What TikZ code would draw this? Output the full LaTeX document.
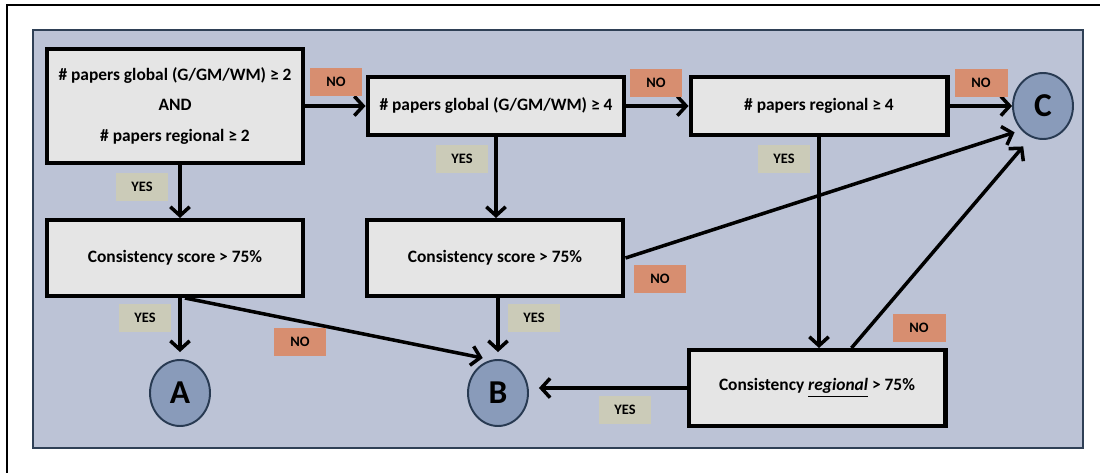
\documentclass[tikz,border=0pt]{standalone}
\usepackage{fontspec}
\setmainfont{Carlito}
\usetikzlibrary{arrows.meta,shapes.geometric}

\definecolor{panelfill}{RGB}{188,195,214}
\definecolor{panelline}{RGB}{47,64,86}
\definecolor{boxfill}{RGB}{229,229,229}
\definecolor{nofill}{RGB}{215,142,112}
\definecolor{yesfill}{RGB}{203,203,184}
\definecolor{endfill}{RGB}{137,155,186}
\definecolor{endline}{RGB}{40,58,82}

\begin{document}
\begin{tikzpicture}[x=0.02cm,y=-0.02cm,
    testbox/.style={draw,line width=2.3pt,fill=boxfill,minimum width=5.14cm,
        font=\bfseries\fontsize{9.9}{11.5}\selectfont,align=center},
    endpoint/.style={ellipse,draw=endline,line width=1.1pt,fill=endfill,
        minimum width=1.2cm,minimum height=1.32cm,inner sep=0pt,
        font=\bfseries\fontsize{19}{21}\selectfont},
    answer/.style={minimum width=1.06cm,minimum height=0.58cm,inner sep=0pt,
        font=\bfseries\fontsize{8.2}{9}\selectfont},
    yeslabel/.style={answer,fill=yesfill},
    nolabel/.style={answer,fill=nofill},
    flow/.style={line width=2pt,-{Straight Barb[length=5pt,width=11pt]}}]

    \useasboundingbox (0,0) rectangle (1100,473);

    % Outer frame and background panel
    \draw[line width=1.1pt] (7,473) -- (7,5) -- (1100,5);
    \draw[panelline,fill=panelfill,line width=0.85pt] (33,30) rectangle (1083,448);

    % --- DECISION BOXES ---
    \node[testbox,minimum height=2.28cm,font=\bfseries\fontsize{9.9}{17.5}\selectfont]
        (glob2) at (175,106) {\# papers global (G/GM/WM) ≥ 2\\AND\\\# papers regional ≥ 2};
    \node[testbox,minimum height=1.16cm] (glob4) at (496,106) {\# papers global (G/GM/WM) ≥ 4};
    \node[testbox,minimum height=1.16cm] (reg4) at (819,106) {\# papers regional ≥ 4};
    \node[testbox,minimum height=1.52cm] (cons1) at (175,258) {Consistency score > 75\%};
    \node[testbox,minimum height=1.52cm] (cons2) at (495,258) {Consistency score > 75\%};
    \node[testbox,minimum height=1.52cm] (consreg) at (817,388)
        {Consistency \underline{\textit{regional}} > 75\%};

    % --- OUTCOMES ---
    \node[endpoint] (A) at (180,393) {A};
    \node[endpoint] (B) at (498,393) {B};
    \node[endpoint] (C) at (1043,106) {C};

    % Top row, NO branches
    \draw[flow] (glob2) -- (glob4);
    \draw[flow] (glob4) -- (reg4);
    \draw[flow] (reg4) -- (C);

    % YES branches down
    \draw[flow] ([xshift=0.1cm]glob2.south) -- ([xshift=0.1cm]cons1.north);
    \draw[flow] (glob4.south) -- (glob4.south |- cons2.north);
    \draw[flow] (reg4.south) -- (reg4.south |- consreg.north);

    % From the consistency checks
    \draw[flow,shorten >=0.14cm] (A.north |- cons1.south) -- (A);
    \draw[flow,shorten >=0.18cm] ([xshift=0.2cm]cons1.south) -- (B.101);
    \draw[flow,shorten >=0.14cm] (B.north |- cons2.south) -- (B);
    \draw[flow,shorten >=0.14cm] (cons2.east) -- (C.228);
    \draw[flow,shorten >=0.2cm] (consreg.west) -- (consreg.west -| B.east);
    \draw[flow,shorten >=0.24cm] ([xshift=0.69cm]consreg.north) -- (C.249);

    % Place the YES / NO labels
    \node[nolabel] (no1) at (336,82) {NO};
    \node[nolabel] (no2) at (656,83) {NO};
    \node[nolabel] (no3) at (981,83) {NO};
    \node[yeslabel] (yes1) at (142,187) {YES};
    \node[yeslabel] (yes2) at (462,159) {YES};
    \node[yeslabel] (yes3) at (784,159) {YES};
    \node[nolabel] (no4) at (660,279) {NO};
    \node[yeslabel] (yes4) at (145,318) {YES};
    \node[nolabel] (no5) at (300,342) {NO};
    \node[yeslabel] (yes5) at (534,318) {YES};
    \node[nolabel] (no6) at (919,328) {NO};
    \node[yeslabel] (yes6) at (625,410) {YES};

\end{tikzpicture}
\end{document}
